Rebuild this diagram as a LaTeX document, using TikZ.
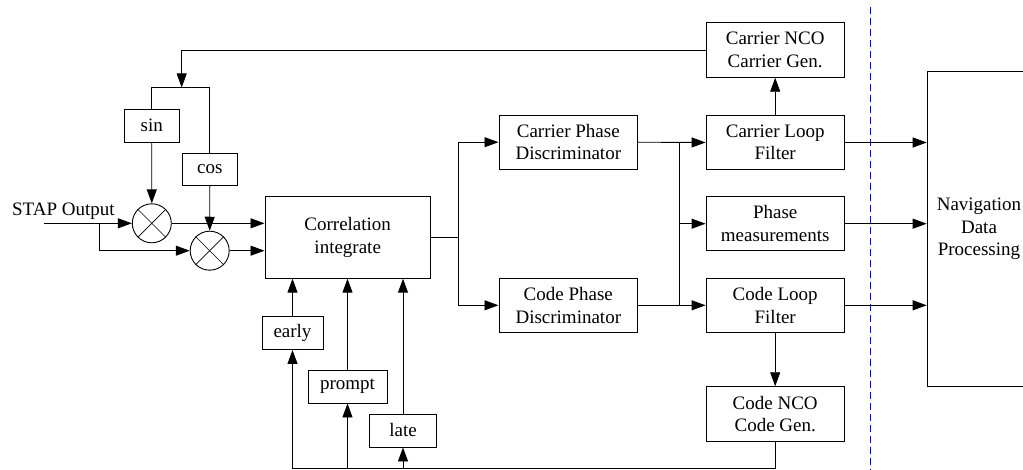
\documentclass[tikz,border=0pt]{standalone}
\usepackage{fontspec}
\setmainfont{Liberation Serif}
\usepackage{tikz}
\usetikzlibrary{arrows.meta,calc}

\begin{document}
\begin{tikzpicture}[x=1pt,y=-1pt,line width=0.9pt,
    font=\fontsize{19}{22.5}\selectfont,
    blk/.style={draw,align=center,inner sep=0pt},
    mix/.style={draw,circle,minimum size=39pt,inner sep=0pt},
    arr/.style={-{Triangle[length=14pt,width=10pt]}}]
    \useasboundingbox(0,0)rectangle(1023,470);
    % mixers and oscillator
    \node[blk,minimum width=55pt,minimum height=33pt](sin)at(151.7,125.8){sin};
    \node[blk,minimum width=55pt,minimum height=32.5pt](cos)at(209.8,169.5){cos};
    \node[mix](m1)at(151.8,223.3){};
    \node[mix](m2)at(209.7,250.7){};
    \foreach \m in {m1,m2}{
      \draw[line width=0.6pt](\m.45)--(\m.225);
      \draw[line width=0.6pt](\m.135)--(\m.315);
    }
    \node[anchor=base](stap)at(63.4,216){STAP Output};
    \coordinate(in)at(44.3,223.3);
    \coordinate(br)at(99.3,223.3);
    \coordinate(jn)at(181.7,87.5);
    % correlators
    \node[blk,minimum width=165.5pt,minimum height=81.3pt](corr)at(347.7,237.6){Correlation\\integrate};
    \node[blk,minimum width=61pt,minimum height=33.5pt](early)at(292.5,332.8){early};
    \node[blk,minimum width=79pt,minimum height=33pt](prompt)at(347.5,386.5){prompt};
    \node[blk,minimum width=67pt,minimum height=33pt](late)at(403,430.5){late};
    \coordinate(bt)at(292.5,468.3);
    % discriminators and filters
    \node[blk,minimum width=138.7pt,minimum height=54pt](cpd)at(568.3,142.2){Carrier Phase\\Discriminator};
    \node[blk,minimum width=138.7pt,minimum height=54pt](copd)at(568.3,305.3){Code Phase\\Discriminator};
    \coordinate(c1)at(458.3,237.6);
    \coordinate(c2)at(679,223.7);
    \node[blk,minimum width=138.3pt,minimum height=54.6pt](nco)at(775.2,50){Carrier NCO\\Carrier Gen.};
    \node[blk,minimum width=138.3pt,minimum height=53.6pt](clf)at(775.2,142.5){Carrier Loop\\Filter};
    \node[blk,minimum width=138.3pt,minimum height=54pt](pm)at(775.2,223.7){Phase\\measurements};
    \node[blk,minimum width=138.3pt,minimum height=54pt](codelf)at(775.2,305.3){Code Loop\\Filter};
    \node[blk,minimum width=138.3pt,minimum height=55pt](cnco)at(775.2,414.2){Code NCO\\Code Gen.};
    \node[blk,minimum width=103.7pt,minimum height=315pt](nav)at(979,229.2){Navigation\\Data\\Processing};
    \draw[blue,dash pattern=on 7pt off 4pt,line width=0.7pt](870.7,6.7)--(870.7,470);
    % connectors
    \draw[arr](nco.west)-|(jn);
    \draw(sin.north)|-(jn)-|(cos.north);
    \draw[arr](sin.south)--(m1.north);
    \draw[arr](cos.south)--(m2.north);
    \draw[arr](in)--(m1.west);
    \draw[arr](br)|-(m2.west);
    \draw[arr](m1.east)--(m1.east-|corr.west);
    \draw[arr](m2.east)--(m2.east-|corr.west);
    \draw(corr.east)--(c1);
    \draw[arr](c1)|-(cpd.west);
    \draw[arr](c1)|-(copd.west);
    \draw[arr](cpd.east)--(clf.west);
    \draw[arr](copd.east)--(codelf.west);
    \draw(cpd.east-|c2)--(copd.east-|c2);
    \draw[arr](c2)--(pm.west);
    \draw[arr](clf.north)--(nco.south);
    \draw[arr](codelf.south)--(cnco.north);
    \draw[arr](clf.east)--(clf.east-|nav.west);
    \draw[arr](pm.east)--(pm.east-|nav.west);
    \draw[arr](codelf.east)--(codelf.east-|nav.west);
    \draw[arr](cnco.south)|-(bt)--(early.south);
    \draw[arr](prompt.south|-bt)--(prompt.south);
    \draw[arr](late.south|-bt)--(late.south);
    \draw[arr](early.north)--(early.north|-corr.south);
    \draw[arr](prompt.north)--(prompt.north|-corr.south);
    \draw[arr](late.north)--(late.north|-corr.south);
  \end{tikzpicture}
\end{document}
